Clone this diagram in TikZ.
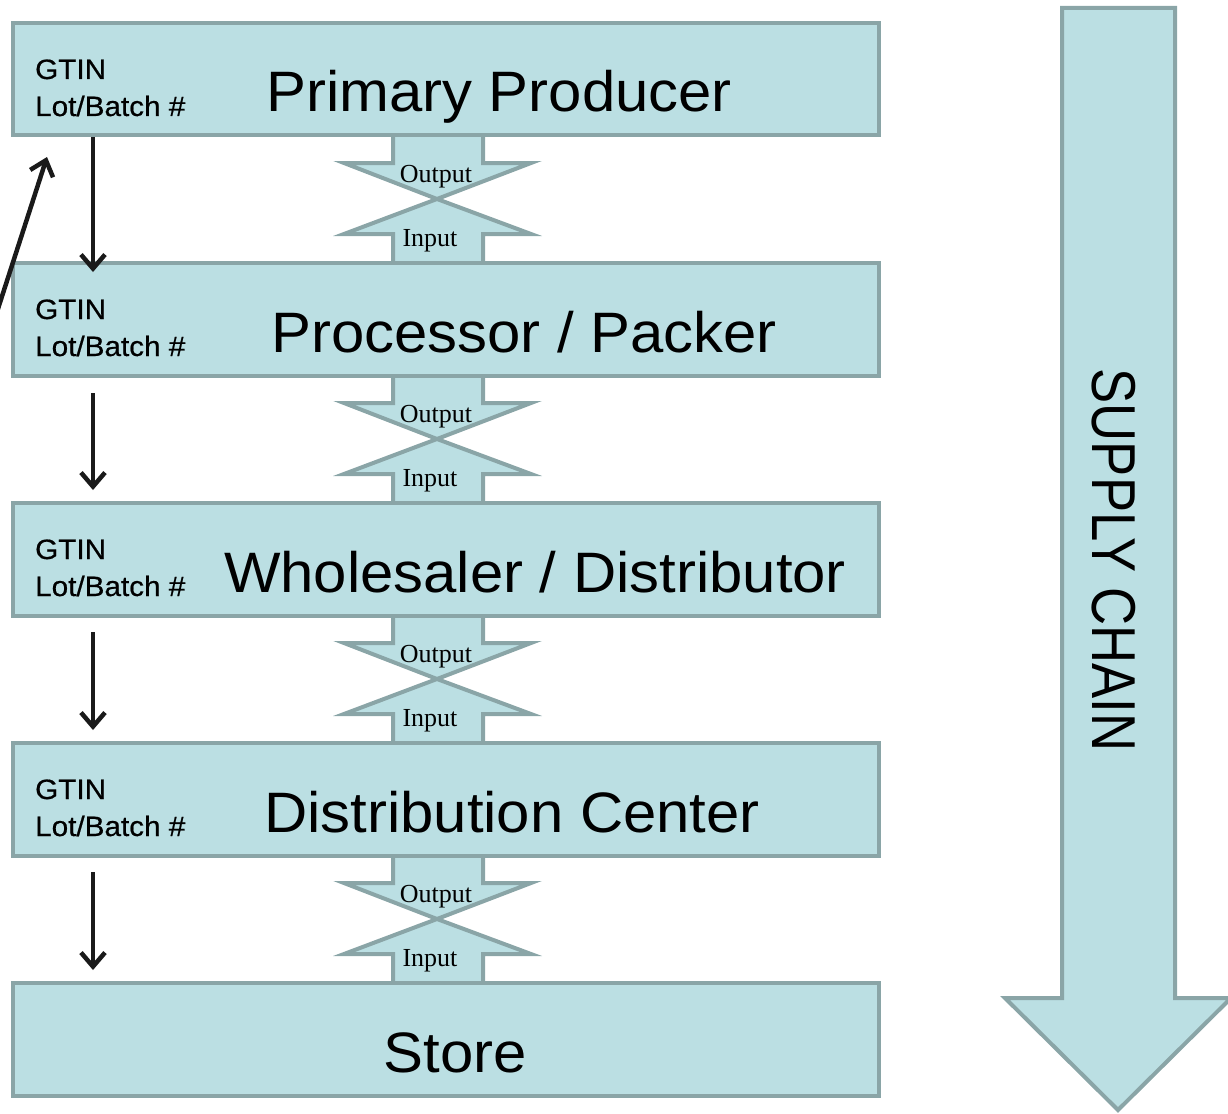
\documentclass[tikz,border=0pt]{standalone}
\usepackage{fontspec}
\setmainfont{Liberation Sans}
\newfontfamily\serifx{Liberation Serif}
\newfontfamily\titlefont[FakeStretch=1.05]{Liberation Sans}
\newfontfamily\codefont[FakeStretch=1.06,FakeBold=0.6]{Liberation Sans}
\newfontfamily\chainfont[FakeStretch=0.85]{Liberation Sans}
\usetikzlibrary{arrows.meta}
\definecolor{boxfill}{RGB}{187,223,227}
\definecolor{boxline}{RGB}{138,165,167}
\definecolor{arrowink}{RGB}{26,26,26}
\begin{document}
\begin{tikzpicture}[x=1pt,y=-1pt,
 stagebox/.style={draw=boxline, fill=boxfill, line width=4pt, minimum width=866pt, minimum height=112.5pt, inner sep=0pt},
 title/.style={font=\titlefont\fontsize{57}{60}\selectfont, anchor=base, inner sep=0pt},
 code/.style={font=\codefont\fontsize{28}{30}\selectfont, anchor=base west, inner sep=0pt},
 flowarrow/.style={draw=boxline, fill=boxfill, line width=4pt, line join=miter},
 flowtext/.style={font=\serifx\fontsize{26}{28}\selectfont, anchor=base, inner sep=0pt},
 trace/.style={draw=arrowink, line width=4.5pt, -{Straight Barb[length=14pt,width=24pt,line width=4.5pt]}}
]
\useasboundingbox (0,0) rectangle (1228,1113);

% supply chain arrow
\filldraw[flowarrow] (1062,8) -- (1175,8) -- (1175,998) -- (1231,998) -- (1118,1110) -- (1005,998) -- (1062,998) -- cycle;
\node[font=\chainfont\fontsize{62}{64}\selectfont, rotate=-90, inner sep=0pt] (chain) at (1114,560) {SUPPLY CHAIN};

% output / input connectors
\foreach \k in {0,1,2,3} {
  \begin{scope}[shift={(0,240*\k)}]
    \filldraw[flowarrow] (393,130) -- (393,163) -- (344,163) -- (437,199) -- (531,163) -- (483,163) -- (483,130);
    \filldraw[flowarrow] (393,268) -- (393,234) -- (344,234) -- (437,199) -- (531,234) -- (483,234) -- (483,268);
    \node[flowtext] (out\k) at (436,182) {Output};
    \node[flowtext] (in\k) at (430,246) {Input};
  \end{scope}
}

% stage boxes
\node[stagebox] (b1) at (446,79) {};
\node[stagebox] (b2) at (446,319.5) {};
\node[stagebox] (b3) at (446,559.5) {};
\node[stagebox] (b4) at (446,799.5) {};
\node[stagebox] (b5) at (446,1039.5) {};

\node[title] (t1) at (499,112) {Primary Producer};
\node[title] (t2) at (524,352) {Processor / Packer};
\node[title] (t3) at (535,592) {Wholesaler / Distributor};
\node[title] (t4) at (512,832) {Distribution Center};
\node[title] (t5) at (455,1072) {Store};

\foreach \k in {0,1,2,3} {
  \node[code] (g\k) at (35,{79+240*\k}) {GTIN};
  \node[code] (l\k) at (35,{116+240*\k}) {Lot/Batch \#};
}

% traceability arrows
\coordinate (a1s) at (93,137);
\coordinate (a1e) at (93,272);
\coordinate (a2s) at (93,393);
\coordinate (a2e) at (93,490);
\coordinate (a3s) at (93,632);
\coordinate (a3e) at (93,730);
\coordinate (a4s) at (93,872);
\coordinate (a4e) at (93,970);
\coordinate (ds) at (-5,318);
\coordinate (de) at (47,157);
\draw[trace] (a1s) -- (a1e);
\draw[trace] (a2s) -- (a2e);
\draw[trace] (a3s) -- (a3e);
\draw[trace] (a4s) -- (a4e);
\draw[trace] (ds) -- (de);
\end{tikzpicture}
\end{document}
